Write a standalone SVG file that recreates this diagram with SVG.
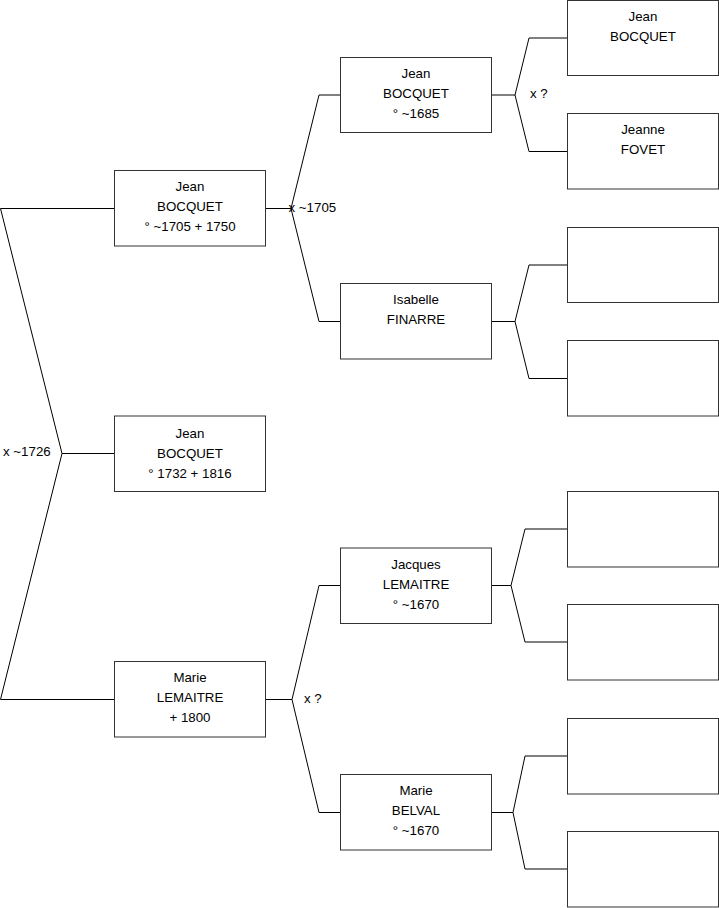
<svg xmlns="http://www.w3.org/2000/svg" width="719" height="908" viewBox="0 0 719 908">
<style>
.box{fill:#fff;stroke:#333;stroke-width:1}
.t{font-family:"Liberation Sans",Arial,sans-serif;font-size:13.3px;fill:#000;text-anchor:middle}
.l{font-family:"Liberation Sans",Arial,sans-serif;font-size:13.3px;fill:#000}
.c{fill:none;stroke:#000;stroke-width:1}
</style>
<rect width="719" height="908" fill="#fff"/>
<g id="connectors">
<path class="c" d="M114.5 208.5H0.5L62 453.5H114.5M62 453.5L0.5 699.5H114.5"/>
<path class="c" d="M265.5 208.5H291L319 95H340.5M291 208.5L319 321.5H340.5"/>
<path class="c" d="M265.5 699.5H292L319 585.5H340.5M292 699.5L319 812.5H340.5"/>
<path class="c" d="M491.5 95H515L529 38H567.5M515 95L529 151.5H567.5"/>
<path class="c" d="M491.5 321.5H515L529 265H567.5M515 321.5L529 378.5H567.5"/>
<path class="c" d="M491.5 585.5H511L525 529H567.5M511 585.5L525 642H567.5"/>
<path class="c" d="M491.5 812.5H513L525 756H567.5M513 812.5L525 869H567.5"/>
</g>
<g id="labels">
<text class="l" x="3" y="455.5">x ~1726</text>
<text class="l" x="288.5" y="211.5">x ~1705</text>
<text class="l" x="530" y="97.5">x ?</text>
<text class="l" x="304" y="702.5">x ?</text>
</g>
<g id="n0">
<rect class="box" x="114.5" y="416" width="151" height="75.5"/>
<text class="t" x="190" y="437.5">Jean</text>
<text class="t" x="190" y="457.5">BOCQUET</text>
<text class="t" x="190" y="477.5">° 1732 + 1816</text>
</g>
<g id="n1">
<rect class="box" x="114.5" y="170.5" width="151" height="75.5"/>
<text class="t" x="190" y="190.5">Jean</text>
<text class="t" x="190" y="210.5">BOCQUET</text>
<text class="t" x="190" y="230.5">° ~1705 + 1750</text>
</g>
<g id="n2">
<rect class="box" x="114.5" y="661.5" width="151" height="75.5"/>
<text class="t" x="190" y="681.5">Marie</text>
<text class="t" x="190" y="701.5">LEMAITRE</text>
<text class="t" x="190" y="721.5">+ 1800</text>
</g>
<g id="n3">
<rect class="box" x="340.5" y="57.5" width="151" height="75"/>
<text class="t" x="416" y="77.5">Jean</text>
<text class="t" x="416" y="97.5">BOCQUET</text>
<text class="t" x="416" y="117.5">° ~1685</text>
</g>
<g id="n4">
<rect class="box" x="340.5" y="283.5" width="151" height="75.5"/>
<text class="t" x="416" y="303.5">Isabelle</text>
<text class="t" x="416" y="323.5">FINARRE</text>
</g>
<g id="n5">
<rect class="box" x="340.5" y="548" width="151" height="75.5"/>
<text class="t" x="416" y="568.5">Jacques</text>
<text class="t" x="416" y="588.5">LEMAITRE</text>
<text class="t" x="416" y="608.5">° ~1670</text>
</g>
<g id="n6">
<rect class="box" x="340.5" y="774.5" width="151" height="75.5"/>
<text class="t" x="416" y="795">Marie</text>
<text class="t" x="416" y="815">BELVAL</text>
<text class="t" x="416" y="835">° ~1670</text>
</g>
<g id="n7">
<rect class="box" x="567.5" y="0.5" width="151" height="75"/>
<text class="t" x="643" y="20.5">Jean</text>
<text class="t" x="643" y="40.5">BOCQUET</text>
</g>
<g id="n8">
<rect class="box" x="567.5" y="113.5" width="151" height="75.5"/>
<text class="t" x="643" y="133.5">Jeanne</text>
<text class="t" x="643" y="153.5">FOVET</text>
</g>
<g id="n9"><rect class="box" x="567.5" y="227.5" width="151" height="75"/></g>
<g id="n10"><rect class="box" x="567.5" y="340.5" width="151" height="75.5"/></g>
<g id="n11"><rect class="box" x="567.5" y="491.5" width="151" height="75.5"/></g>
<g id="n12"><rect class="box" x="567.5" y="604.5" width="151" height="75.5"/></g>
<g id="n13"><rect class="box" x="567.5" y="718.5" width="151" height="75.5"/></g>
<g id="n14"><rect class="box" x="567.5" y="831.5" width="151" height="75.5"/></g>
</svg>
